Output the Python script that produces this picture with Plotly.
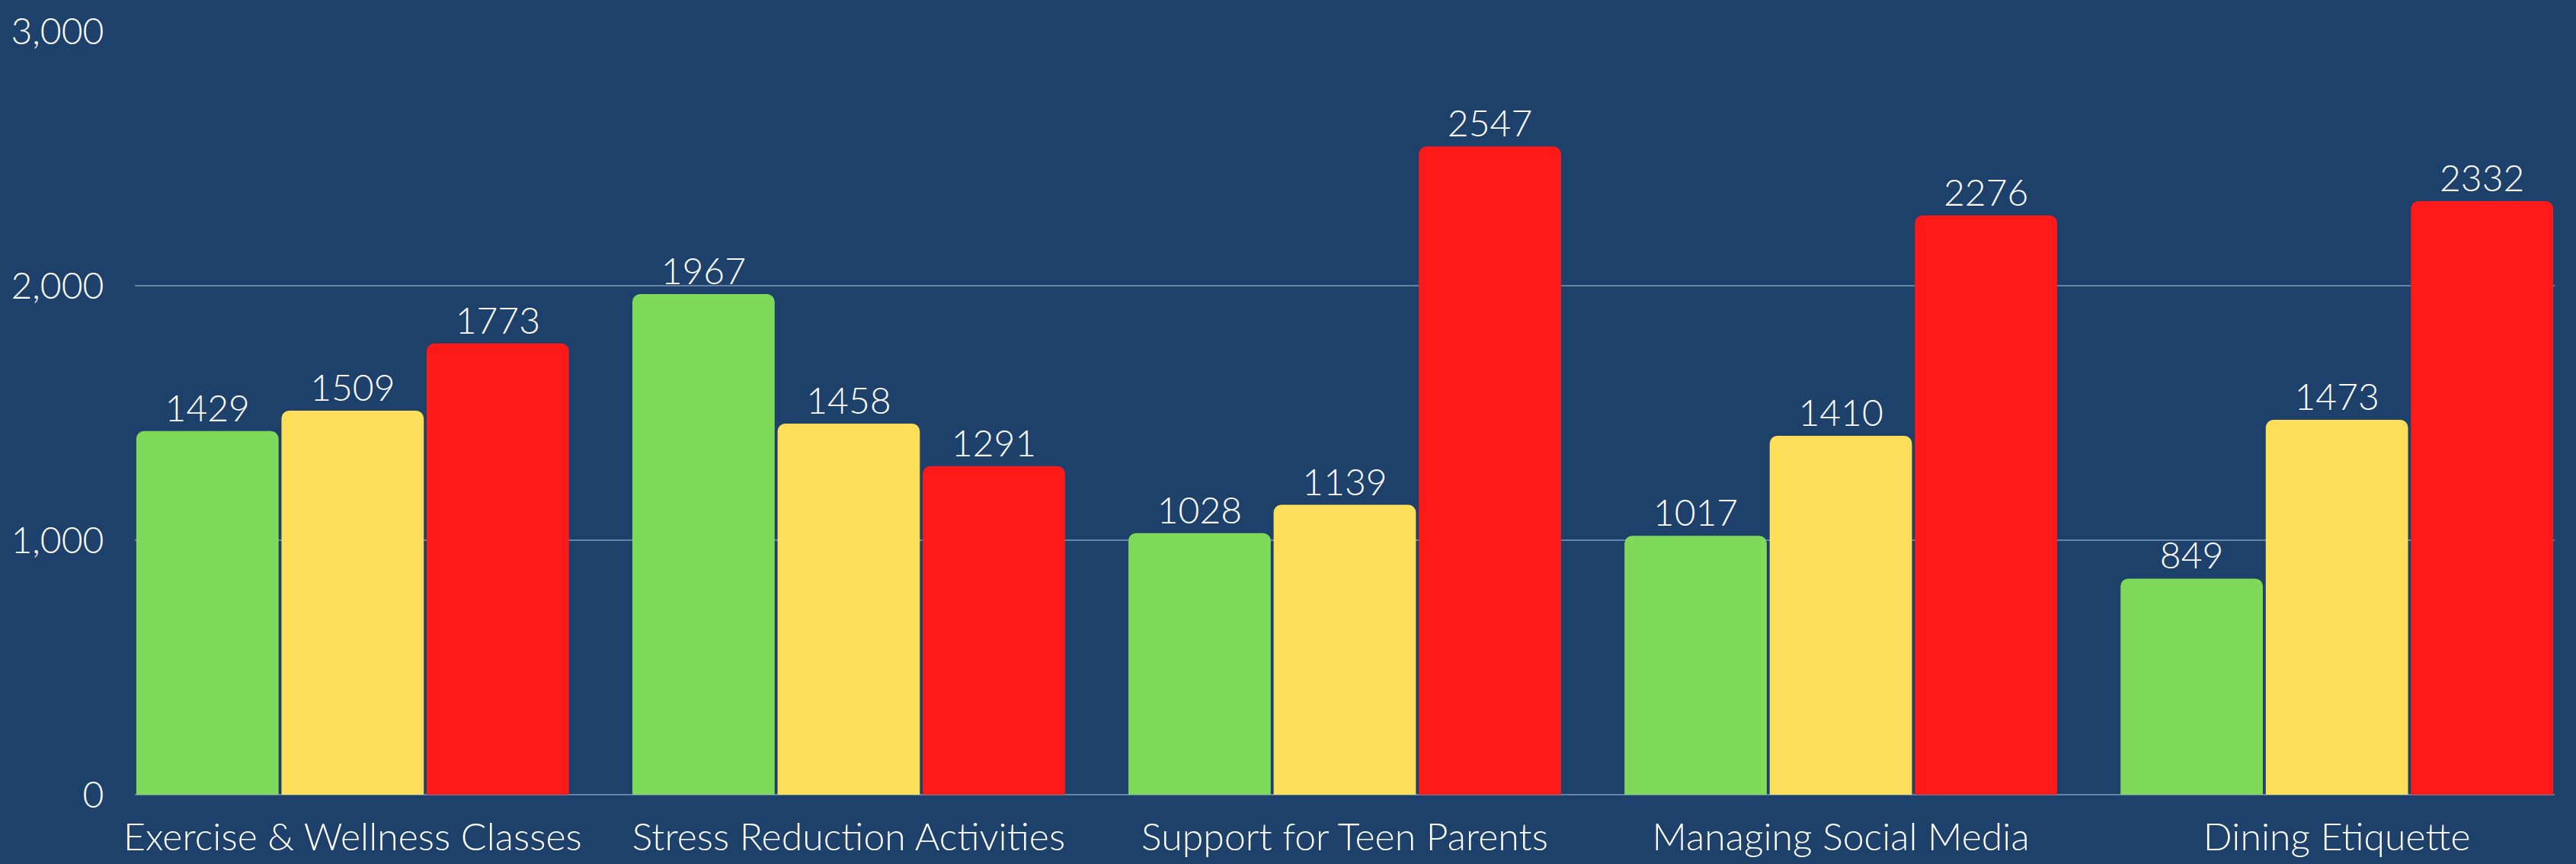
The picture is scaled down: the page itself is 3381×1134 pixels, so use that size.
import plotly.graph_objects as go

categories = ["Exercise & Wellness Classes", "Stress Reduction Activities",
              "Support for Teen Parents", "Managing Social Media", "Dining Etiquette"]
series_names = ["Series 1", "Series 2", "Series 3"]
values_green = [1429, 1967, 1028, 1017, 849]
values_yellow = [1509, 1458, 1139, 1410, 1473]
values_red = [1773, 1291, 2547, 2276, 2332]
colors = ["#80DA5A", "#FFDF59", "#FF1A1A"]
y_ticks = [0, 1000, 2000, 3000]
y_ticklabels = ["0", "1,000", "2,000", "3,000"]

FONT = "Lato"
BG = "#1E416B"

fig = go.Figure()
for name, vals, col in zip(series_names, [values_green, values_yellow, values_red], colors):
    fig.add_trace(go.Bar(
        x=categories, y=vals, name=name,
        marker=dict(color=col, cornerradius=10, line=dict(width=0)),
        text=[str(v) for v in vals], textposition="outside",
        textfont=dict(family=FONT, size=48, color="white", weight=300),
        cliponaxis=False, constraintext="none",
    ))

bargap = 0.122
n = len(categories)
fig.update_layout(
    width=3381, height=1134,
    paper_bgcolor=BG, plot_bgcolor=BG,
    barmode="group", bargap=bargap, bargroupgap=0.02,
    showlegend=False,
    margin=dict(l=177, r=28, t=41, b=91, autoexpand=False),
    font=dict(family=FONT, color="white", weight=300),
)
fig.update_xaxes(
    range=[-0.5 + bargap / 2, n - 0.5 - bargap / 2],
    automargin=False,
    showgrid=False, showline=False, zeroline=False,
    tickfont=dict(family=FONT, size=50, color="white", weight=300),
    ticks="outside", ticklen=12, tickcolor="rgba(0,0,0,0)",
)
fig.update_yaxes(
    range=[0, 3000], tickvals=y_ticks, ticktext=y_ticklabels,
    automargin=False,
    showgrid=True, gridcolor="rgba(160,185,215,0.55)", gridwidth=2,
    zeroline=True, zerolinecolor="rgba(160,185,215,0.55)", zerolinewidth=2,
    showline=False,
    tickfont=dict(family=FONT, size=48, color="white", weight=300),
    ticks="outside", ticklen=30, tickcolor="rgba(0,0,0,0)",
)
fig.write_html(
    "out.html",
    config={"displayModeBar": False},
    post_script="document.body.style.margin='0';document.body.style.overflow='hidden';"
                "document.body.style.background='" + BG + "';",
)
